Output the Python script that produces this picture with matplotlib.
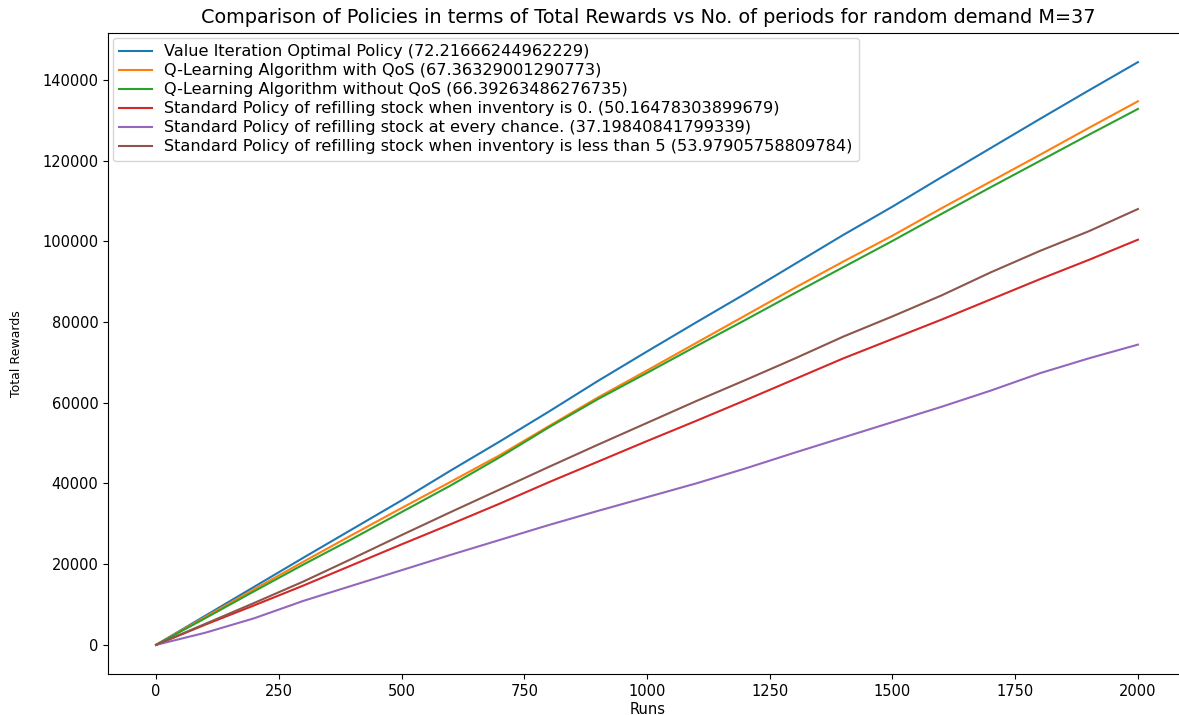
import matplotlib
matplotlib.use("Agg")
import matplotlib.pyplot as plt

# cumulative total rewards (in thousands), every 100 runs
runs = list(range(0, 2001, 100))

value_iter = [0, 7.2, 14.4, 21.6, 28.7, 35.8, 43.2, 50.4, 57.8, 65.4, 72.7,
              79.9, 87.0, 94.3, 101.6, 108.6, 115.9, 123.1, 130.3, 137.4, 144.4]
q_qos = [0, 6.9, 13.8, 20.6, 27.3, 33.9, 40.4, 47.0, 54.2, 61.3, 68.0,
         74.8, 81.6, 88.4, 95.0, 101.4, 108.2, 114.8, 121.4, 128.1, 134.7]
q_noqos = [0, 6.6, 13.3, 19.9, 26.3, 32.9, 39.5, 46.5, 53.9, 60.9, 67.4,
           74.0, 80.5, 87.1, 93.6, 100.1, 106.8, 113.4, 119.9, 126.4, 132.8]
refill_zero = [0, 5.0, 9.8, 14.7, 19.8, 24.9, 29.9, 35.0, 40.3, 45.4, 50.5,
               55.5, 60.6, 65.8, 71.0, 75.8, 80.6, 85.6, 90.6, 95.4, 100.4]
refill_every = [0, 3.0, 6.6, 10.9, 14.7, 18.5, 22.3, 26.0, 29.7, 33.2, 36.6,
                40.0, 43.7, 47.6, 51.4, 55.2, 59.0, 63.0, 67.3, 71.0, 74.4]
refill_lt5 = [0, 5.2, 10.4, 15.7, 21.4, 27.2, 32.9, 38.5, 44.1, 49.6, 55.0,
              60.4, 65.6, 70.9, 76.4, 81.4, 86.6, 92.3, 97.6, 102.5, 108.0]

names = [
    "Value Iteration Optimal Policy",
    "Q-Learning Algorithm with QoS",
    "Q-Learning Algorithm without QoS",
    "Standard Policy of refilling stock when inventory is 0.",
    "Standard Policy of refilling stock at every chance.",
    "Standard Policy of refilling stock when inventory is less than 5",
]
averages = ["72.21666244962229", "67.36329001290773", "66.39263486276735",
            "50.16478303899679", "37.19840841799339", "53.97905758809784"]
series = [value_iter, q_qos, q_noqos, refill_zero, refill_every, refill_lt5]

plt.rcParams["font.family"] = ["DejaVu Sans"]

fig = plt.figure(figsize=(11.79, 7.15), dpi=100)
ax = fig.add_axes([108 / 1179, 41 / 715, 1080 / 1179, 641 / 715])

for name, avg, vals in zip(names, averages, series):
    ax.plot(runs, [v * 1000 for v in vals], lw=1.5, label=f"{name} ({avg})")

ax.set_xlim(-98, 2102)
ax.set_xticks([0, 250, 500, 750, 1000, 1250, 1500, 1750, 2000])
ax.tick_params(labelsize=10.5)
ax.spines["right"].set_visible(False)
ax.set_title("Comparison of Policies in terms of Total Rewards vs No. of periods for random demand M=37",
             fontsize=13.9, pad=7)
ax.set_xlabel("Runs", fontsize=10.5, labelpad=2)
ax.set_ylabel("Total Rewards", fontsize=9, labelpad=14)
ax.legend(loc="upper left", fontsize=11.6, labelspacing=0.25,
          borderaxespad=0.3, handlelength=2.0)

fig.savefig("out.png", dpi=100)
